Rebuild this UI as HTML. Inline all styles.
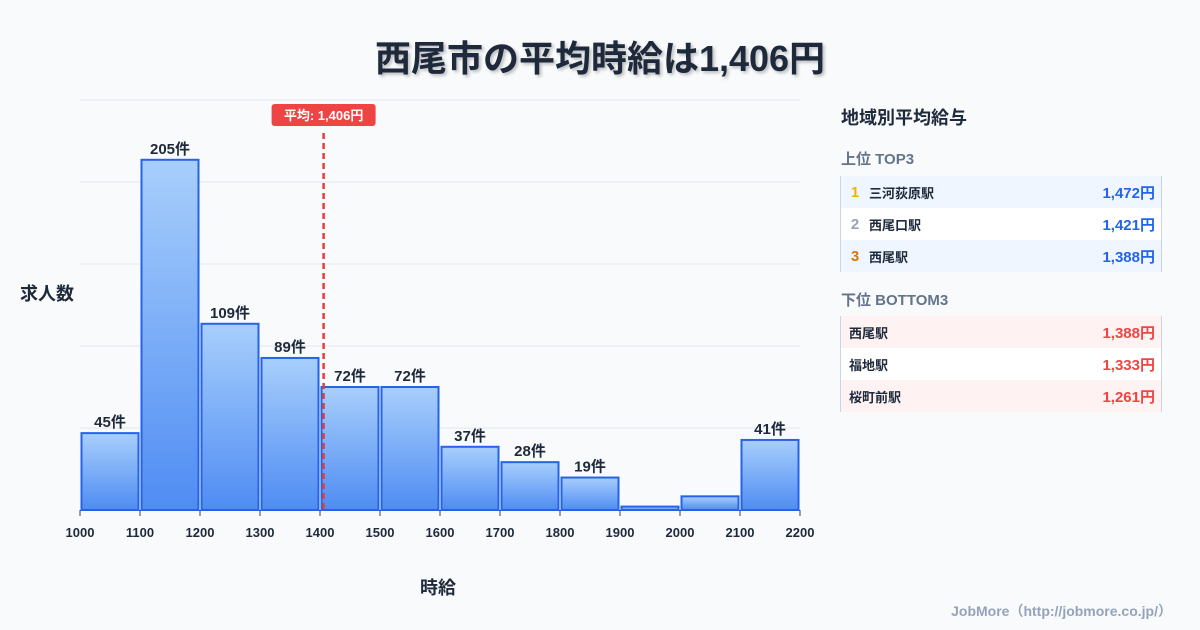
<!DOCTYPE html>
<html><head><meta charset="utf-8">
<style>
body{margin:0;width:1200px;height:630px;background:#f8fafc;font-family:"Liberation Sans","Noto Sans CJK JP",sans-serif;position:relative;overflow:hidden;color:#1e293b}
.abs{position:absolute}
h1{position:absolute;left:0;width:1200px;top:30px;margin:0;text-align:center;font-size:36px;font-weight:700;color:#1e293b;text-shadow:2px 2px 3px rgba(0,0,0,0.25)}
.tbl{position:absolute;left:840px;width:320px;border-left:1px solid #cbd5e1;border-right:1px solid #cbd5e1}
.row{height:32px;display:flex;align-items:center;font-size:13px;font-weight:700;position:relative}
.row .v{position:absolute;right:6px;font-size:15px}
.rk{width:28px;text-align:center;font-size:15px}
</style></head><body>
<h1>西尾市の平均時給は1,406円</h1>
<div class="abs" style="left:20px;top:280px;font-size:18px;font-weight:700">求人数</div>
<div class="abs" style="left:420px;top:574px;font-size:18px;font-weight:700">時給</div>
<div class="abs" style="right:28px;top:601px;font-size:14px;font-weight:700;color:#94a3b8">JobMore（http://jobmore.co.jp/）</div>
<svg id="chart" class="abs" style="left:0;top:0" width="820" height="560">
<defs><linearGradient id="g" x1="0" y1="0" x2="0" y2="1"><stop offset="0" stop-color="#a8cffc"/><stop offset="1" stop-color="#4f8cf3"/></linearGradient></defs>
</svg>
<div class="abs" style="left:841px;top:104px;font-size:18px;font-weight:700">地域別平均給与</div>
<div class="abs" style="left:841px;top:148px;font-size:15px;font-weight:700;color:#64748b">上位 TOP3</div>
<div class="tbl" style="top:176px">
<div class="row" style="background:#eff6ff"><span class="rk" style="color:#eab308">1</span>三河荻原駅<span class="v" style="color:#2563eb">1,472円</span></div>
<div class="row" style="background:#fff"><span class="rk" style="color:#94a3b8">2</span>西尾口駅<span class="v" style="color:#2563eb">1,421円</span></div>
<div class="row" style="background:#eff6ff"><span class="rk" style="color:#d97706">3</span>西尾駅<span class="v" style="color:#2563eb">1,388円</span></div>
</div>
<div class="abs" style="left:841px;top:289px;font-size:15px;font-weight:700;color:#64748b">下位 BOTTOM3</div>
<div class="tbl" style="top:316px">
<div class="row" style="background:#fef2f2;padding-left:8px">西尾駅<span class="v" style="color:#ef4444">1,388円</span></div>
<div class="row" style="background:#fff;padding-left:8px">福地駅<span class="v" style="color:#ef4444">1,333円</span></div>
<div class="row" style="background:#fef2f2;padding-left:8px">桜町前駅<span class="v" style="color:#ef4444">1,261円</span></div>
</div>
<script>
const binStarts=[1000,1100,1200,1300,1400,1500,1600,1700,1800,1900,2000,2100];
const counts=[45,205,109,89,72,72,37,28,19,2,8,41];
const xTicks=[1000,1100,1200,1300,1400,1500,1600,1700,1800,1900,2000,2100,2200];
const meanValue=1406;
const NS="http://www.w3.org/2000/svg";
const svg=document.getElementById('chart');
const x0=80,x1=800,xmin=1000,xmax=2200,yb=510,yt=100,ymax=240;
const X=v=>x0+(v-xmin)/(xmax-xmin)*(x1-x0);
const Y=v=>yb-v/ymax*(yb-yt);
function mk(t,a){const e=document.createElementNS(NS,t);for(const k in a)e.setAttribute(k,a[k]);svg.appendChild(e);return e;}
for(let i=0;i<=5;i++){const y=yt+i*(yb-yt)/5;const l=mk('line',{x1:x0,x2:x1,y1:y,y2:y,stroke:'#e2e8f0','stroke-width':1});

}
binStarts.forEach((b,i)=>{
const xa=X(b)+1.5,xb=X(b+100)-1.5,y=Y(counts[i]);
const r=mk('rect',{x:xa,y:y,width:xb-xa,height:yb-y,fill:'url(#g)',stroke:'#2563eb','stroke-width':2});


if(counts[i]>=10){const t=mk('text',{x:(xa+xb)/2,y:y-6,'text-anchor':'middle','font-size':15,'font-weight':700,fill:'#1e293b'});t.textContent=counts[i]+'件';

}
});
xTicks.forEach(v=>{const l=mk('line',{x1:X(v),x2:X(v),y1:yb,y2:yb+6,stroke:'#334155','stroke-width':1});


const t=mk('text',{x:X(v),y:yb+27,'text-anchor':'middle','font-size':13,'font-weight':700,fill:'#1e293b'});t.textContent=v;

});
const mx=X(meanValue);
const ml=mk('line',{x1:mx,x2:mx,y1:133,y2:yb,stroke:'#e53e3e','stroke-width':2.5,'stroke-dasharray':'6,4'});


const mb=mk('rect',{x:mx-52,y:104,width:104,height:22,rx:3,fill:'#ef4444'});


const mt=mk('text',{x:mx,y:120,'text-anchor':'middle','font-size':13,'font-weight':700,fill:'#fff'});mt.textContent='平均: '+meanValue.toLocaleString('en-US')+'円';


</script>
</body></html>
